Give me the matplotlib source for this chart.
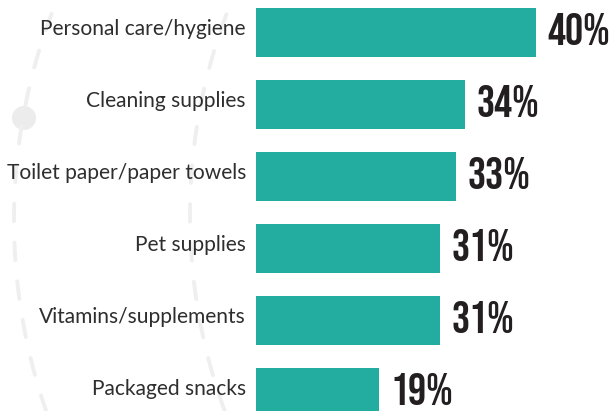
import numpy as np
import matplotlib
matplotlib.use('Agg')
import matplotlib.pyplot as plt

# data
categories = ['Personal care/hygiene', 'Cleaning supplies', 'Toilet paper/paper towels',
              'Pet supplies', 'Vitamins/supplements', 'Packaged snacks']
shares = [40, 34, 33, 31, 31, 19]                 # printed values [%]
bar_values = [40, 29.9, 28.6, 26.3, 26.3, 17.6]   # bar lengths as drawn in the picture

teal = '#23ADA0'
dark = '#231F20'

fig = plt.figure(figsize=(6.1, 4.11), dpi=100, facecolor='white')

# background decoration (pixel coords)
bg = fig.add_axes([0, 0, 1, 1])
bg.set_xlim(0, 610)
bg.set_ylim(411, 0)
bg.axis('off')
ang = np.linspace(0, 2*np.pi, 720)
for cx, cy, r in [(598, 220, 584), (761, 215, 571)]:
    bg.plot(cx + r*np.cos(ang), cy + r*np.sin(ang), color='#efefef', linewidth=2.8,
            linestyle=(0, (4.5, 5.5)), dash_capstyle='round')
bg.add_patch(plt.Circle((24, 118), 12, color='#ececec', linewidth=0))

# bar chart: 7 px per unit, 72 px per row
ax = fig.add_axes([256/610, 0, 1 - 256/610, 1])
ax.patch.set_alpha(0)
y = np.arange(len(categories))
ax.barh(y, bar_values, height=0.68, color=teal)
ax.set_xlim(0, 354/7)
ax.set_ylim((411 - 32.5)/72, -32.5/72)
for s in ax.spines.values():
    s.set_visible(False)
ax.set_xticks([])
ax.set_yticks([])

for yi, v, s, cat in zip(y, bar_values, shares, categories):
    ax.text(-10/7, yi + 2.5/72, cat, ha='right', va='baseline', color='#2e2e2e',
            family=['Lato', 'DejaVu Sans'], fontsize=15.1, clip_on=False)
    ax.text(v + 1.6, yi + 12.5/72, f'{s}%', va='baseline', ha='left', color=dark,
            family=['Bebas Neue', 'DejaVu Sans'], fontsize=32.5, clip_on=False)

fig.savefig('out.png', dpi=100, facecolor='white')
